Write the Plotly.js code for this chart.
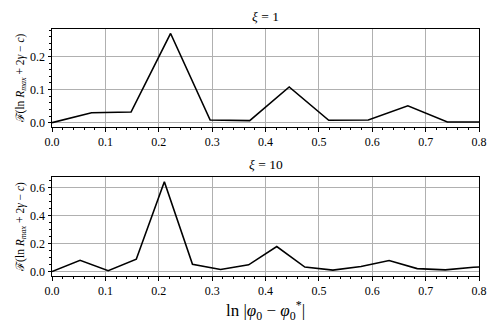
<!DOCTYPE html>
<html>
<head>
<meta charset="utf-8">
<script src="https://cdn.plot.ly/plotly-3.0.1.min.js"></script>
<style>
  html, body { margin: 0; padding: 0; background: #fff; }
  #grafico { width: 498px; height: 332px; }
</style>
</head>
<body>
<div id="grafico"></div>
<script>
// ===== Dados =====
// xi = 1 (passo 2/27)
const xTopo = [0, 0.0741, 0.1481, 0.2222, 0.2963, 0.3704, 0.4444, 0.5185, 0.5926, 0.6667, 0.7407, 0.8148];
const yTopo = [0, 0.030, 0.032, 0.270, 0.008, 0.006, 0.108, 0.007, 0.008, 0.051, 0.002, 0.002];

// xi = 10 (passo 1/19)
const xBase = [0, 0.0526, 0.1053, 0.1579, 0.2105, 0.2632, 0.3158, 0.3684, 0.4211, 0.4737,
               0.5263, 0.5789, 0.6316, 0.6842, 0.7368, 0.7895, 0.8421];
const yBase = [0, 0.080, 0.006, 0.088, 0.643, 0.052, 0.015, 0.048, 0.179, 0.032,
               0.010, 0.036, 0.079, 0.021, 0.012, 0.031, 0.036];

const titulos = ["<i>ξ</i> = 1", "<i>ξ</i> = 10"];
const tituloY = "ℱ(ln <i>R</i><sub><i>max</i></sub> + 2<i>γ</i> − <i>c</i>)";
const tituloX = "ln |<i>φ</i><sub>0</sub> − <i>φ</i><sub>0</sub><sup>*</sup>|";

// ===== Estilo =====
const familia = "Liberation Serif";
const fonte = { family: familia, size: 12, color: "#000" };

function eixoX(anchor) {
  return {
    anchor: anchor,
    range: [0, 0.8],
    dtick: 0.1,
    tickformat: ".1f",
    showgrid: true, gridcolor: "#b0b0b0", gridwidth: 1,
    zeroline: false,
    showline: true, linecolor: "#000", linewidth: 1, mirror: true,
    ticks: "outside", ticklen: 3.5, tickcolor: "#000",
    minor: { dtick: 0.02, ticks: "outside", ticklen: 2, tickcolor: "#000", showgrid: false },
    tickfont: fonte
  };
}

function eixoY(dominio, faixa, passo, passoMenor, anchor) {
  return {
    domain: dominio,
    anchor: anchor,
    range: faixa,
    dtick: passo,
    tickformat: ".1f",
    showgrid: true, gridcolor: "#b0b0b0", gridwidth: 1,
    zeroline: false,
    showline: true, linecolor: "#000", linewidth: 1, mirror: true,
    ticks: "outside", ticklen: 3.5, tickcolor: "#000",
    minor: { dtick: passoMenor, ticks: "outside", ticklen: 2, tickcolor: "#000", showgrid: false },
    tickfont: fonte,
    title: { text: tituloY, font: { family: familia, size: 11.5, color: "#000" }, standoff: 3 }
  };
}

const data = [
  { x: xTopo, y: yTopo, type: "scatter", mode: "lines", line: { color: "#000", width: 1.6 }, xaxis: "x", yaxis: "y", hoverinfo: "skip" },
  { x: xBase, y: yBase, type: "scatter", mode: "lines", line: { color: "#000", width: 1.6 }, xaxis: "x2", yaxis: "y2", hoverinfo: "skip" }
];

const xa2 = eixoX("y2");
xa2.title = { text: tituloX, font: { family: familia, size: 17, color: "#000" }, standoff: 0 };

const layout = {
  width: 498, height: 332,
  margin: { t: 29, r: 19, b: 56, l: 52 },
  paper_bgcolor: "#fff", plot_bgcolor: "#fff",
  showlegend: false,
  font: fonte,
  xaxis: eixoX("y"),
  yaxis: eixoY([0.603, 1], [-0.0135, 0.2835], 0.1, 0.02, "x"),
  xaxis2: xa2,
  yaxis2: eixoY([0, 0.401], [-0.032, 0.677], 0.2, 0.05, "x2"),
  annotations: [
    { text: titulos[0], xref: "paper", yref: "paper", x: 0.5, y: 1, yshift: 3, yanchor: "bottom", showarrow: false, font: { family: familia, size: 13.5, color: "#000" } },
    { text: titulos[1], xref: "paper", yref: "paper", x: 0.5, y: 0.401, yshift: 3, yanchor: "bottom", showarrow: false, font: { family: familia, size: 13.5, color: "#000" } }
  ]
};

Plotly.newPlot("grafico", data, layout, { displayModeBar: false, staticPlot: true });
</script>
</body>
</html>
